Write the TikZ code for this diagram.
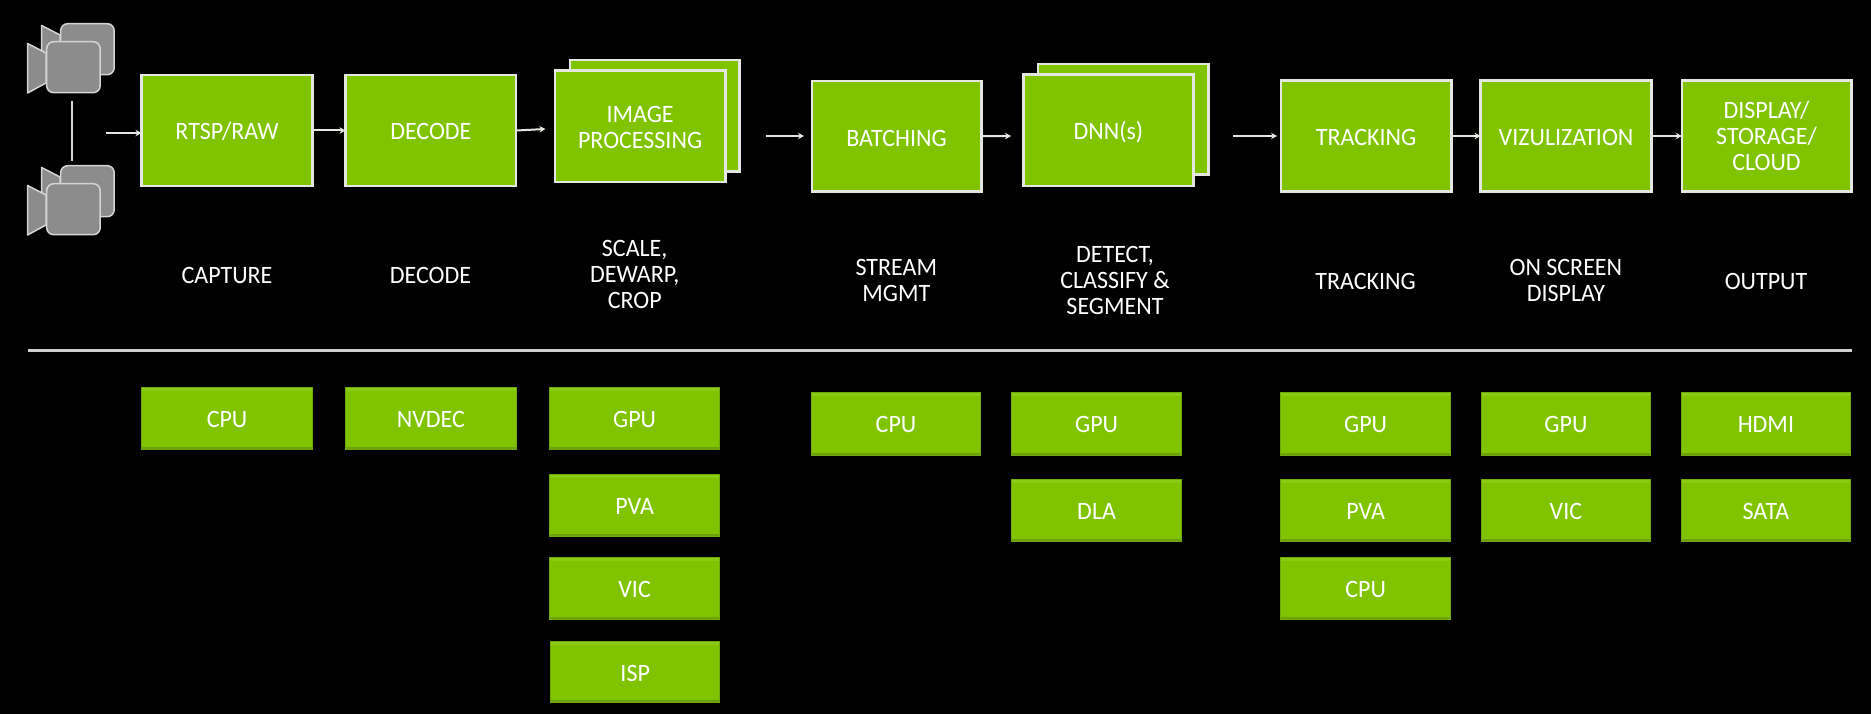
\documentclass[tikz,border=0pt]{standalone}
\usepackage{fontspec}
\setmainfont[FakeStretch=0.96]{Carlito}
\usetikzlibrary{arrows.meta}
\definecolor{bg}{HTML}{000000}
\definecolor{nvgreen}{HTML}{80C400}
\definecolor{edgegreen}{HTML}{6FA80C}
\definecolor{edgedark}{HTML}{6E9F0C}
\definecolor{edgelight}{HTML}{8CCB14}
\definecolor{lightline}{HTML}{E4E6E0}
\definecolor{rulegrey}{HTML}{CFCFCF}
\definecolor{camfill}{HTML}{8C8C8C}
\definecolor{camline}{HTML}{D4D4D4}
\newcommand{\topstrut}[1]{\vrule height #1pt depth 0pt width 0pt\relax}
\newcommand{\botstrut}{\vrule height 0pt depth 4pt width 0pt\relax}
\tikzset{
  every node/.style={text=white,inner sep=0pt,outer sep=0pt,align=center,font=\fontsize{25}{26}\selectfont},
  capstrut/.style={execute at begin node={\topstrut{#1}},execute at end node={\botstrut}},
  stage/.style={rectangle,fill=nvgreen,draw=lightline,line width=2.4pt,capstrut=22},
  unit/.style={rectangle,fill=nvgreen,draw=edgegreen,line width=1pt,capstrut=22,
    path picture={\fill[edgedark] ([yshift=2.5pt]path picture bounding box.south west) rectangle (path picture bounding box.south east);
      \fill[edgelight] ([yshift=-3pt]path picture bounding box.north west) rectangle (path picture bounding box.north east);}},
  flow/.style={draw=lightline,line width=2pt,-{Stealth[length=6pt,width=6.5pt]}},
  link/.style={draw=camline,line width=1.5pt},
  rule/.style={draw=rulegrey,line width=3pt},
  cambody/.style={rectangle,rounded corners=7pt,fill=camfill,draw=camline,line width=1.5pt},
  camcone/.style={fill=camfill,draw=camline,line width=1.5pt,line join=round},
  label/.style={capstrut=20}
}
\newcommand{\boxat}[7]{%
  \pgfmathsetmacro\bw{#5-#3}\pgfmathsetmacro\bh{#6-#4}%
  \node[#1,minimum width=\bw pt,minimum height=\bh pt] (#2) at ({(#3+#5)/2},{(#4+#6)/2}) {#7};}
\newcommand{\camera}[4]{% name, x offset of body left, y of body top, body size
  \draw[camcone] (#2-18.4,#3+2.5) -- (#2,#3+12) -- (#2,#3+42) -- (#2-18.4,#3+52) -- cycle;
  \node[cambody,minimum width=53.5pt,minimum height=51pt,anchor=north west] (#1) at (#2+.7,#3+.7) {};}
\begin{document}
\begin{tikzpicture}[x=1pt,y=-1pt]
\useasboundingbox[fill=bg] (0,0) rectangle (1871,714);
% cameras
\camera{camAback}{60}{23}{}
\camera{camAfront}{46}{41}{}
\camera{camBback}{60}{165}{}
\camera{camBfront}{46}{183}{}
\coordinate (linkT) at (72,100.7);
\coordinate (linkB) at (72,160.7);
\draw[link] (linkT) -- (linkB);
% top row
\boxat{stage}{rtsp}{141.5}{75}{312.6}{186}{RTSP/RAW}
\boxat{stage}{decode}{345.5}{75}{516.2}{186}{DECODE}
\boxat{stage}{imgback}{569.9}{60}{739.3}{171.5}{}
\boxat{stage}{img}{554.7}{70.5}{725.5}{182}{\topstrut{22}IMAGE\\PROCESSING}
\boxat{stage,capstrut=24}{batch}{811.8}{81}{981.3}{191.5}{BATCHING}
\boxat{stage}{dnnback}{1038.2}{64}{1208.5}{174.5}{}
\boxat{stage}{dnn}{1023.4}{74.5}{1193.4}{186}{DNN(s)}
\boxat{stage,capstrut=24}{track}{1280.8}{80.5}{1451.3}{191.5}{TRACKING}
\boxat{stage,capstrut=24}{viz}{1480.6}{80.5}{1651.5}{191.5}{VIZULIZATION}
\boxat{stage}{disp}{1681.7}{80.5}{1851.3}{191.5}{\topstrut{22}DISPLAY/\\STORAGE/\\CLOUD}
% arrows
\coordinate (inA) at (106,133);
\coordinate (imgIn) at (545.4,129);
\coordinate (batchFrom) at (766,136);
\coordinate (batchTo) at (804,136);
\coordinate (dnnTo) at (1011,136);
\coordinate (trackFrom) at (1233,136);
\coordinate (trackTo) at (1277,136);
\draw[flow] (inA) -- (inA -| rtsp.west);
\draw[flow] (rtsp.east) -- (decode.west);
\draw[flow] (decode.east) -- (imgIn);
\draw[flow] (batchFrom) -- (batchTo);
\draw[flow] (batch.east) -- (dnnTo);
\draw[flow] (trackFrom) -- (trackTo);
\draw[flow] (track.east) -- (viz.west);
\draw[flow] (viz.east) -- (disp.west);
% labels
\node[label] (lcapture) at (227,275) {CAPTURE};
\node[label] (ldecode) at (430.5,275) {DECODE};
\node[label] (lscale) at (634.7,276.5) {SCALE,\\DEWARP,\\CROP};
\node[label] (lstream) at (896.3,282) {STREAM\\MGMT};
\node[label] (ldetect) at (1115,282.7) {DETECT,\\CLASSIFY \&\\SEGMENT};
\node[label] (ltrack) at (1365.6,281) {TRACKING};
\node[label] (losd) at (1565.9,282) {ON SCREEN\\DISPLAY};
\node[label] (loutput) at (1766,281) {OUTPUT};
% rule
\coordinate (ruleL) at (28,350);
\coordinate (ruleR) at (1852,350);
\draw[rule] (ruleL) -- (ruleR);
% bottom units
\boxat{unit}{ucap}{141.7}{387.5}{312.4}{449.2}{CPU}
\boxat{unit}{udec}{345.5}{387.5}{516.2}{449.2}{NVDEC}
\boxat{unit}{uig}{549.3}{387.5}{719.9}{449.2}{GPU}
\boxat{unit}{uip}{549.3}{474.8}{719.9}{536.2}{PVA}
\boxat{unit}{uiv}{549.3}{557.8}{719.9}{619.2}{VIC}
\boxat{unit}{uii}{550.5}{641.8}{719.9}{702.8}{ISP}
\boxat{unit}{ubc}{811.5}{392.5}{980.5}{455.2}{CPU}
\boxat{unit}{udg}{1011.3}{392.5}{1181.9}{455.2}{GPU}
\boxat{unit}{udd}{1011.3}{479.5}{1181.9}{541.2}{DLA}
\boxat{unit}{utg}{1280.7}{392.5}{1450.5}{455.2}{GPU}
\boxat{unit}{utp}{1280.7}{479.5}{1450.5}{541.2}{PVA}
\boxat{unit}{utc}{1280.7}{557.8}{1450.5}{619.2}{CPU}
\boxat{unit}{uvg}{1481.3}{392.5}{1650.5}{455.2}{GPU}
\boxat{unit}{uvv}{1481.3}{479.5}{1650.5}{541.2}{VIC}
\boxat{unit}{uoh}{1681.3}{392.5}{1850.5}{455.2}{HDMI}
\boxat{unit}{uos}{1681.3}{479.5}{1850.5}{541.2}{SATA}
\end{tikzpicture}
\end{document}
